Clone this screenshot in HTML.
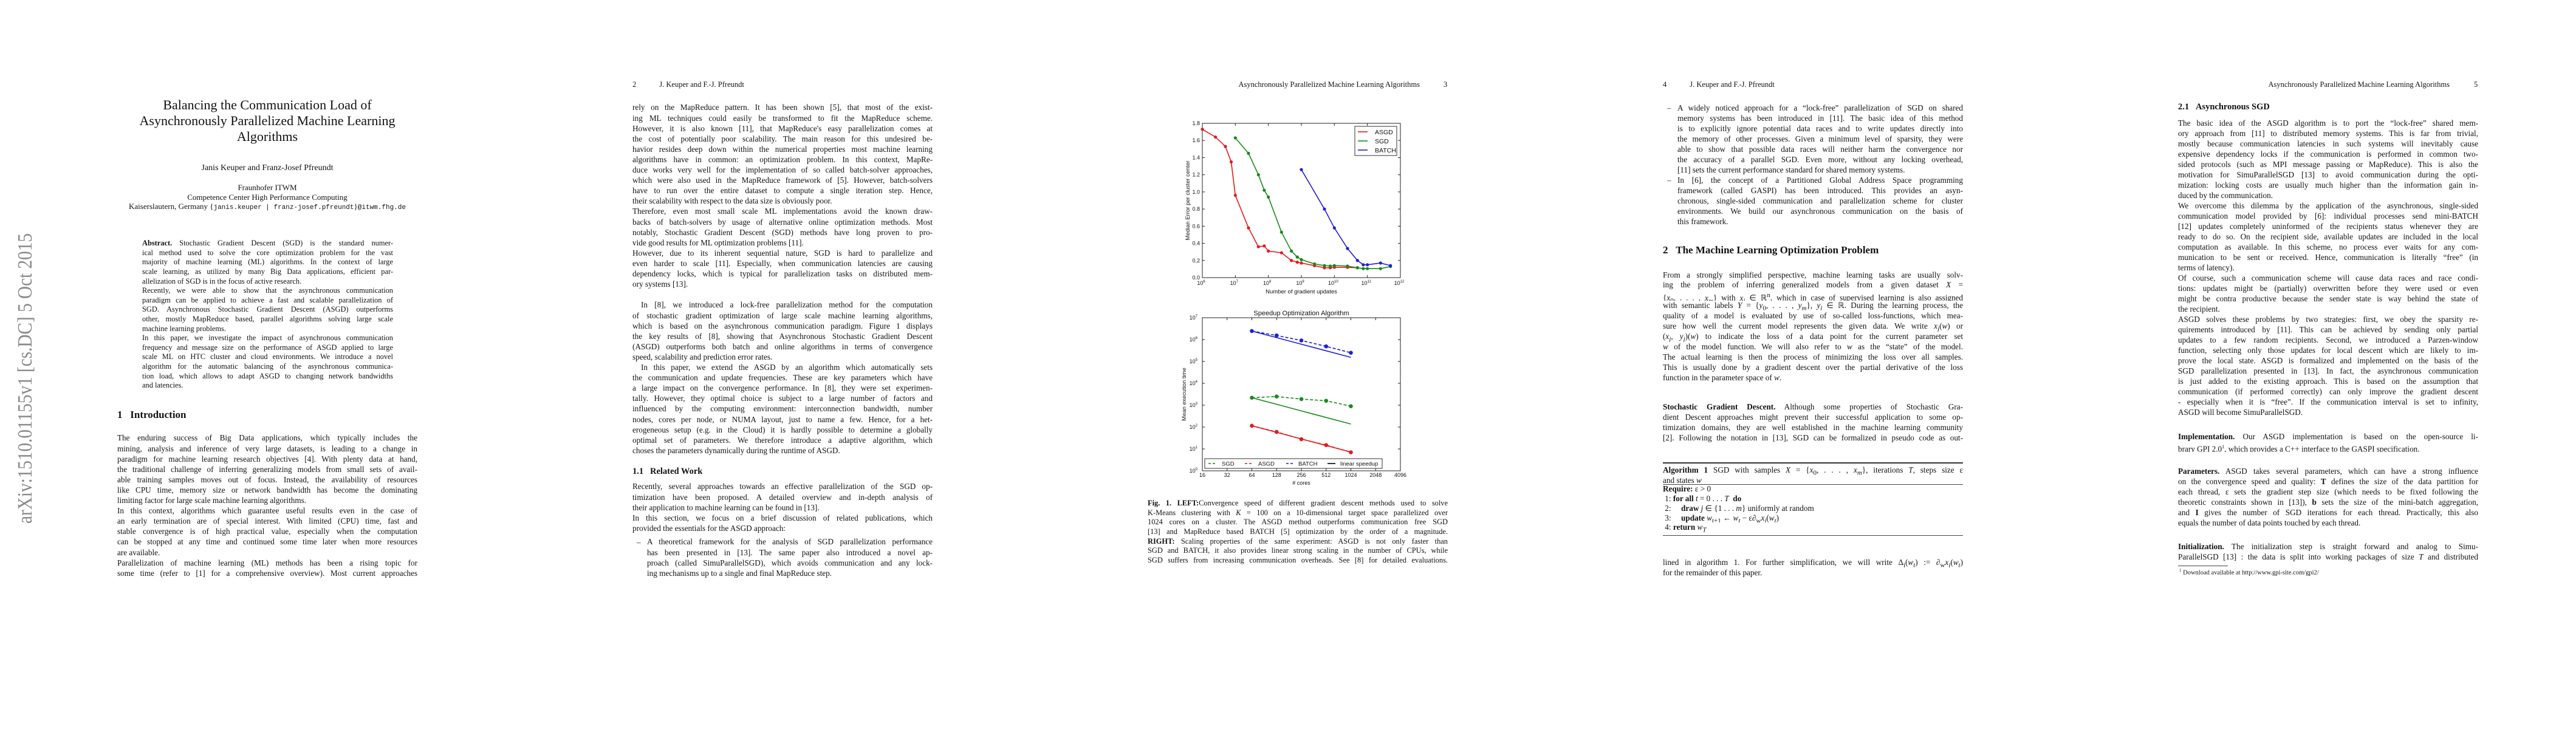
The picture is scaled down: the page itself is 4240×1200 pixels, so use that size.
<!DOCTYPE html>
<html><head><meta charset="utf-8">
<style>
html,body{margin:0;padding:0;background:#fff;}
body{width:4240px;height:1200px;position:relative;overflow:hidden;font-family:"Liberation Serif",serif;color:#111;}
.ln{position:absolute;white-space:normal;overflow:hidden;text-align:justify;text-align-last:justify;}
.ln.last{text-align-last:left;}
.abs{position:absolute;white-space:nowrap;}
.tt{font-family:"Liberation Mono",monospace;font-size:11px;}
svg text{font-family:"Liberation Sans",sans-serif;fill:#111;}
</style></head>
<body>

<!-- Page 1 -->
<div>
<svg class="abs" style="left:0;top:0" width="80" height="1200">
<text x="0" y="0" transform="translate(52,862) rotate(-90)" textLength="478" lengthAdjust="spacingAndGlyphs" style="font-family:'Liberation Serif',serif;font-size:34px;fill:#8a8a8a">arXiv:1510.01155v1  [cs.DC]  5 Oct 2015</text>
</svg>
<div class="abs" style="left:140px;width:600px;top:160px;text-align:center;font-size:22px;line-height:26px;">Balancing the Communication Load of<br>Asynchronously Parallelized Machine Learning<br>Algorithms</div>
<div class="abs" style="left:140px;width:600px;top:269px;text-align:center;font-size:14px;">Janis Keuper and Franz-Josef Pfreundt</div>
<div class="abs" style="left:140px;width:600px;top:301px;text-align:center;font-size:13px;line-height:15.5px;">Fraunhofer ITWM<br>Competence Center High Performance Computing<br>Kaiserslautern, Germany {<span class="tt">janis.keuper | franz-josef.pfreundt</span>}<span class="tt">@itwm.fhg.de</span></div>
<div class="abs" style="left:193px;top:673px;font-size:17px;font-weight:bold;">1&nbsp;&nbsp;&nbsp;Introduction</div>
</div>

<!-- Page 2 -->
<div class="abs" style="left:1041px;top:132px;font-size:12.5px;">2<span style="display:inline-block;width:38px"></span>J. Keuper and F.-J. Pfreundt</div>
<div class="abs" style="left:1041px;top:768px;font-size:14.5px;font-weight:bold;">1.1&nbsp;&nbsp;&nbsp;Related Work</div>

<!-- Page 3 -->
<div class="abs" style="left:1890px;width:447px;top:132px;font-size:12.5px;text-align:right;">Asynchronously Parallelized Machine Learning Algorithms</div>
<div class="abs" style="left:2376px;top:132px;font-size:12.5px;">3</div>

<!-- Page 4 -->
<div class="abs" style="left:2737px;top:132px;font-size:12.5px;">4<span style="display:inline-block;width:38px"></span>J. Keuper and F.-J. Pfreundt</div>
<div class="abs" style="left:2737px;top:402px;font-size:17px;font-weight:bold;">2&nbsp;&nbsp;&nbsp;The Machine Learning Optimization Problem</div>
<div class="abs" style="left:2737px;top:761px;width:494px;height:1.5px;background:#333;"></div>
<div class="abs" style="left:2737px;top:797px;width:494px;height:1px;background:#444;"></div>
<div class="abs" style="left:2737px;top:881px;width:494px;height:1px;background:#444;"></div>

<!-- Page 5 -->
<div class="abs" style="left:3585px;width:447px;top:132px;font-size:12.5px;text-align:right;">Asynchronously Parallelized Machine Learning Algorithms</div>
<div class="abs" style="left:4072px;top:132px;font-size:12.5px;">5</div>
<div class="abs" style="left:3585px;top:168px;font-size:14.5px;font-weight:bold;">2.1&nbsp;&nbsp;&nbsp;Asynchronous SGD</div>
<div class="abs" style="left:3585px;top:931px;width:82px;height:1px;background:#444;"></div>
<div class="abs" style="left:3587px;top:935px;font-size:10.5px;"><sup style="font-size:7px">1</sup> Download available at http://www.gpi-site.com/gpi2/</div>

<svg id="charts" class="abs" style="left:0;top:0" width="4240" height="1200"></svg>

<script>
// ---------- text blocks ----------
function block(name, x, y, w, lh, fs, lines, indentFirst){
  for (var i=0;i<lines.length;i++){
    var s = lines[i], last=false, ind=0;
    if (s.slice(-1)==='¶'){ last=true; s=s.slice(0,-1); }
    if (s.charAt(0)==='>'){ ind=14; s=s.slice(1); }
    var d=document.createElement('div');
    d.className='ln'+(last?' last':'');
    
    
    d.style.left=(x+ind)+'px'; d.style.width=(w-ind)+'px';
    d.style.top=(y+i*lh-lh/2)+'px'; d.style.height=lh+'px';
    d.style.lineHeight=lh+'px'; d.style.fontSize=fs+'px';
    d.innerHTML=s;
    document.body.appendChild(d);
  }
}
function dash(name,x,y){
  var d=document.createElement('div');
  d.className='abs';
  
  
  d.style.left=x+'px'; d.style.top=(y-8.5)+'px'; d.style.fontSize='13px'; d.style.lineHeight='17px';
  d.textContent='–';
  document.body.appendChild(d);
}
var FS=13.2;
block('abstract',234,401,413,15.6,12.4,[
'<b>Abstract.</b> Stochastic Gradient Descent (SGD) is the standard numer-',
'ical method used to solve the core optimization problem for the vast',
'majority of machine learning (ML) algorithms. In the context of large',
'scale learning, as utilized by many Big Data applications, efficient par-',
'allelization of SGD is in the focus of active research.¶',
'Recently, we were able to show that the asynchronous communication',
'paradigm can be applied to achieve a fast and scalable parallelization of',
'SGD. Asynchronous Stochastic Gradient Descent (ASGD) outperforms',
'other, mostly MapReduce based, parallel algorithms solving large scale',
'machine learning problems.¶',
'In this paper, we investigate the impact of asynchronous communication',
'frequency and message size on the performance of ASGD applied to large',
'scale ML on HTC cluster and cloud environments. We introduce a novel',
'algorithm for the automatic balancing of the asynchronous communica-',
'tion load, which allows to adapt ASGD to changing network bandwidths',
'and latencies.¶']);
block('introduction',193,721,494,17.1,FS,[
'The enduring success of Big Data applications, which typically includes the',
'mining, analysis and inference of very large datasets, is leading to a change in',
'paradigm for machine learning research objectives [4]. With plenty data at hand,',
'the traditional challenge of inferring generalizing models from small sets of avail-',
'able training samples moves out of focus. Instead, the availability of resources',
'like CPU time, memory size or network bandwidth has become the dominating',
'limiting factor for large scale machine learning algorithms.¶',
'In this context, algorithms which guarantee useful results even in the case of',
'an early termination are of special interest. With limited (CPU) time, fast and',
'stable convergence is of high practical value, especially when the computation',
'can be stopped at any time and continued some time later when more resources',
'are available.¶',
'Parallelization of machine learning (ML) methods has been a rising topic for',
'some time (refer to [1] for a comprehensive overview). Most current approaches']);
block('page2-intro',1041,177,494,17.1,FS,[
'rely on the MapReduce pattern. It has been shown [5], that most of the exist-',
'ing ML techniques could easily be transformed to fit the MapReduce scheme.',
'However, it is also known [11], that MapReduce\'s easy parallelization comes at',
'the cost of potentially poor scalability. The main reason for this undesired be-',
'havior resides deep down within the numerical properties most machine learning',
'algorithms have in common: an optimization problem. In this context, MapRe-',
'duce works very well for the implementation of so called batch-solver approaches,',
'which were also used in the MapReduce framework of [5]. However, batch-solvers',
'have to run over the entire dataset to compute a single iteration step. Hence,',
'their scalability with respect to the data size is obviously poor.¶',
'Therefore, even most small scale ML implementations avoid the known draw-',
'backs of batch-solvers by usage of alternative online optimization methods. Most',
'notably, Stochastic Gradient Descent (SGD) methods have long proven to pro-',
'vide good results for ML optimization problems [11].¶',
'However, due to its inherent sequential nature, SGD is hard to parallelize and',
'even harder to scale [11]. Especially, when communication latencies are causing',
'dependency locks, which is typical for parallelization tasks on distributed mem-',
'ory systems [13].¶']);
block('page2-contribution',1041,502,494,17.1,FS,[
'>In [8], we introduced a lock-free parallelization method for the computation',
'of stochastic gradient optimization of large scale machine learning algorithms,',
'which is based on the asynchronous communication paradigm. Figure 1 displays',
'the key results of [8], showing that Asynchronous Stochastic Gradient Descent',
'(ASGD) outperforms both batch and online algorithms in terms of convergence',
'speed, scalability and prediction error rates.¶',
'>In this paper, we extend the ASGD by an algorithm which automatically sets',
'the communication and update frequencies. These are key parameters which have',
'a large impact on the convergence performance. In [8], they were set experimen-',
'tally. However, they optimal choice is subject to a large number of factors and',
'influenced by the computing environment: interconnection bandwidth, number',
'nodes, cores per node, or NUMA layout, just to name a few. Hence, for a het-',
'erogeneous setup (e.g. in the Cloud) it is hardly possible to determine a globally',
'optimal set of parameters. We therefore introduce a adaptive algorithm, which',
'choses the parameters dynamically during the runtime of ASGD.¶']);
block('related-work',1041,801,494,17.1,FS,[
'Recently, several approaches towards an effective parallelization of the SGD op-',
'timization have been proposed. A detailed overview and in-depth analysis of',
'their application to machine learning can be found in [13].¶',
'In this section, we focus on a brief discussion of related publications, which',
'provided the essentials for the ASGD approach:¶']);
dash('bullet-dash',1048,892);
block('related-bullet-1',1065,892,470,17.1,FS,[
'A theoretical framework for the analysis of SGD parallelization performance',
'has been presented in [13]. The same paper also introduced a novel ap-',
'proach (called SimuParallelSGD), which avoids communication and any lock-',
'ing mechanisms up to a single and final MapReduce step.¶']);
block('figure-caption',1889,829,494,15.6,12.4,[
'<b>Fig. 1. LEFT:</b>Convergence speed of different gradient descent methods used to solve',
'K-Means clustering with <i>K</i> = 100 on a 10-dimensional target space parallelized over',
'1024 cores on a cluster. The ASGD method outperforms communication free SGD',
'[13] and MapReduce based BATCH [5] optimization by the order of a magnitude.',
'<b>RIGHT:</b> Scaling properties of the same experiment: ASGD is not only faster than',
'SGD and BATCH, it also provides linear strong scaling in the number of CPUs, while',
'SGD suffers from increasing communication overheads. See [8] for detailed evaluations.']);
dash('bullet-dash',2744,177);
block('related-bullet-2',2761,177,470,17.0,FS,[
'A widely noticed approach for a “lock-free” parallelization of SGD on shared',
'memory systems has been introduced in [11]. The basic idea of this method',
'is to explicitly ignore potential data races and to write updates directly into',
'the memory of other processes. Given a minimum level of sparsity, they were',
'able to show that possible data races will neither harm the convergence nor',
'the accuracy of a parallel SGD. Even more, without any locking overhead,',
'[11] sets the current performance standard for shared memory systems.¶']);
dash('bullet-dash',2744,296);
block('related-bullet-3',2761,296,470,17.0,FS,[
'In [6], the concept of a Partitioned Global Address Space programming',
'framework (called GASPI) has been introduced. This provides an asyn-',
'chronous, single-sided communication and parallelization scheme for cluster',
'environments. We build our asynchronous communication on the basis of',
'this framework.¶']);
block('optimization-problem',2737,453,494,16.9,FS,[
'From a strongly simplified perspective, machine learning tasks are usually solv-',
'ing the problem of inferring generalized models from a given dataset <i>X</i> =',
'{<i>x</i><sub>0</sub>, . . . , <i>x<sub>m</sub></i>} with <i>x<sub>i</sub></i> ∈ ℝ<sup>n</sup>, which in case of supervised learning is also assigned',
'with semantic labels <i>Y</i> = {<i>y</i><sub>0</sub>, . . . , <i>y<sub>m</sub></i>}, <i>y<sub>i</sub></i> ∈ ℝ. During the learning process, the',
'quality of a model is evaluated by use of so-called loss-functions, which mea-',
'sure how well the current model represents the given data. We write <i>x<sub>j</sub></i>(<i>w</i>) or',
'(<i>x<sub>j</sub></i>, <i>y<sub>j</sub></i>)(<i>w</i>) to indicate the loss of a data point for the current parameter set',
'<i>w</i> of the model function. We will also refer to <i>w</i> as the “state” of the model.',
'The actual learning is then the process of minimizing the loss over all samples.',
'This is usually done by a gradient descent over the partial derivative of the loss',
'function in the parameter space of <i>w</i>.¶']);
block('sgd-paragraph',2737,669,494,17.0,FS,[
'<b>Stochastic Gradient Descent.</b> Although some properties of Stochastic Gra-',
'dient Descent approaches might prevent their successful application to some op-',
'timization domains, they are well established in the machine learning community',
'[2]. Following the notation in [13], SGD can be formalized in pseudo code as out-']);
block('algorithm-title',2737,773,494,17,FS,[
'<b>Algorithm 1</b> SGD with samples <i>X</i> = {<i>x</i><sub>0</sub>, . . . , <i>x<sub>m</sub></i>}, iterations <i>T</i>, steps size ε',
'and states <i>w</i>¶']);
block('algorithm-body',2737,805,494,15.8,FS,[
'<b>Require:</b> ε &gt; 0¶',
'&nbsp;1: <b>for all</b> <i>t</i> = 0 . . . <i>T</i> &nbsp;<b>do</b>¶',
'&nbsp;2: &nbsp;&nbsp;&nbsp;&nbsp;<b>draw</b> <i>j</i> ∈ {1 . . . <i>m</i>} uniformly at random¶',
'&nbsp;3: &nbsp;&nbsp;&nbsp;&nbsp;<b>update</b> <i>w</i><sub>t+1</sub> ← <i>w<sub>t</sub></i> − ε∂<sub>w</sub><i>x<sub>j</sub></i>(<i>w<sub>t</sub></i>)¶',
'&nbsp;4: <b>return</b> <i>w<sub>T</sub></i>¶']);
block('after-algorithm',2737,925,494,17,FS,[
'lined in algorithm 1. For further simplification, we will write Δ<sub>j</sub>(<i>w<sub>t</sub></i>) := ∂<sub>w</sub><i>x<sub>j</sub></i>(<i>w<sub>t</sub></i>)',
'for the remainder of this paper.¶']);
block('asgd-text',3585,202,494,17.0,FS,[
'The basic idea of the ASGD algorithm is to port the “lock-free” shared mem-',
'ory approach from [11] to distributed memory systems. This is far from trivial,',
'mostly because communication latencies in such systems will inevitably cause',
'expensive dependency locks if the communication is performed in common two-',
'sided protocols (such as MPI message passing or MapReduce). This is also the',
'motivation for SimuParallelSGD [13] to avoid communication during the opti-',
'mization: locking costs are usually much higher than the information gain in-',
'duced by the communication.¶',
'We overcome this dilemma by the application of the asynchronous, single-sided',
'communication model provided by [6]: individual processes send mini-BATCH',
'[12] updates completely uninformed of the recipients status whenever they are',
'ready to do so. On the recipient side, available updates are included in the local',
'computation as available. In this scheme, no process ever waits for any com-',
'munication to be sent or received. Hence, communication is literally “free” (in',
'terms of latency).¶',
'Of course, such a communication scheme will cause data races and race condi-',
'tions: updates might be (partially) overwritten before they were used or even',
'might be contra productive because the sender state is way behind the state of',
'the recipient.¶',
'ASGD solves these problems by two strategies: first, we obey the sparsity re-',
'quirements introduced by [11]. This can be achieved by sending only partial',
'updates to a few random recipients. Second, we introduced a Parzen-window',
'function, selecting only those updates for local descent which are likely to im-',
'prove the local state. ASGD is formalized and implemented on the basis of the',
'SGD parallelization presented in [13]. In fact, the asynchronous communication',
'is just added to the existing approach. This is based on the assumption that',
'communication (if performed correctly) can only improve the gradient descent',
'- especially when it is “free”. If the communication interval is set to infinity,',
'ASGD will become SimuParallelSGD.¶']);
block('implementation',3585,718,494,17.0,FS,[
'<b>Implementation.</b> Our ASGD implementation is based on the open-source li-',
'brary GPI 2.0<sup style="font-size:8px">1</sup>, which provides a C++ interface to the GASPI specification.¶']);
block('parameters',3585,775,494,17.0,FS,[
'<b>Parameters.</b> ASGD takes several parameters, which can have a strong influence',
'on the convergence speed and quality: <b>T</b> defines the size of the data partition for',
'each thread, ε sets the gradient step size (which needs to be fixed following the',
'theoretic constraints shown in [13]), <b>b</b> sets the size of the mini-batch aggregation,',
'and <b>I</b> gives the number of SGD iterations for each thread. Practically, this also',
'equals the number of data points touched by each thread.¶']);
block('initialization',3585,899,494,17.0,FS,[
'<b>Initialization.</b> The initialization step is straight forward and analog to Simu-',
'ParallelSGD [13] : the data is split into working packages of size <i>T</i> and distributed']);
</script>

<script>
// ---------- Chart data ----------
var c1AsgdX = [1e6,2.5e6,5e6,7.5e6,1e7,2.5e7,5e7,7.5e7,1e8,2.5e8,5e8,7.5e8,1e9,2.5e9,5e9,7.5e9,1e10,2.5e10,5e10];
var c1AsgdY = [1.73,1.64,1.53,1.35,0.96,0.58,0.36,0.37,0.31,0.29,0.20,0.18,0.17,0.14,0.115,0.115,0.12,0.12,0.115];
var c1SgdX = [1e7,2.5e7,5e7,7.5e7,1e8,2.5e8,5e8,7.5e8,1e9,2.5e9,5e9,7.5e9,1e10,2.5e10,5e10,7.5e10,1e11,2.5e11,5e11];
var c1SgdY = [1.63,1.45,1.20,1.02,0.94,0.53,0.31,0.24,0.21,0.16,0.14,0.135,0.14,0.135,0.115,0.105,0.105,0.105,0.13];
var c1BatchX = [1e9,5e9,1e10,2.5e10,5e10,7.5e10,1e11,2.5e11,5e11];
var c1BatchY = [1.26,0.80,0.58,0.34,0.20,0.15,0.15,0.17,0.14];
var c1YTicks = [0,0.2,0.4,0.6,0.8,1.0,1.2,1.4,1.6,1.8];
var c1XTickExp = [6,7,8,9,10,11,12];

var c2Cores = [64,128,256,512,1024];
var c2Batch = [2.46e6,1.55e6,9.1e5,4.9e5,2.5e5];
var c2Sgd = [2.2e3,2.5e3,1.9e3,1.6e3,9.0e2];
var c2Asgd = [115,60,28,15,7];
var c2XTicks = [16,32,64,128,256,512,1024,2048,4096];
var c2YTickExp = [0,1,2,3,4,5,6,7];

(function(){
var NS='http://www.w3.org/2000/svg';
var svg=document.getElementById('charts');
function el(tag, attrs, parent){
  var e=document.createElementNS(NS,tag);
  for(var k in attrs) e.setAttribute(k, attrs[k]);
  (parent||svg).appendChild(e); return e;
}
var RED='#e41a1c', GREEN='#1a8a1a', BLUE='#1f1fd6';
var L1=1979,R1=2305,T1=203,B1=457;
function x1(v){return L1+(Math.log10(v)-6)/6*(R1-L1);}
function y1(v){return B1-v/1.8*(B1-T1);}
var g1=el('g',{});


var fr=el('rect',{x:L1,y:T1,width:R1-L1,height:B1-T1,fill:'none',stroke:'#222','stroke-width':1},g1);


c1YTicks.forEach(function(v){
  var y=y1(v);
  el('line',{x1:L1,x2:L1+4,y1:y,y2:y,stroke:'#222'},g1);
  el('line',{x1:R1,x2:R1-4,y1:y,y2:y,stroke:'#222'},g1);
  var t=el('text',{x:L1-4,y:y+3,'text-anchor':'end','font-size':9},g1);
  
  
  t.textContent=v.toFixed(1);
});
c1XTickExp.forEach(function(e){
  var x=x1(Math.pow(10,e));
  el('line',{x1:x,x2:x,y1:B1,y2:B1-4,stroke:'#222'},g1);
  el('line',{x1:x,x2:x,y1:T1,y2:T1+4,stroke:'#222'},g1);
  var t=el('text',{x:x-2,y:B1+12,'text-anchor':'middle','font-size':9},g1);
  
  
  t.textContent='10';
  var s=el('tspan',{dy:-4,'font-size':6},t); s.textContent=String(e);
});
var xl=el('text',{x:(L1+R1)/2,y:B1+26,'text-anchor':'middle','font-size':9.5},g1);


xl.textContent='Number of gradient updates';
var yl=el('text',{x:0,y:0,transform:'translate(1958,'+((T1+B1)/2)+') rotate(-90)','text-anchor':'middle','font-size':9.5},g1);


yl.textContent='Median Error per cluster center';
function series1(xs,ys,col,name){
  var pts=xs.map(function(x,i){return x1(x).toFixed(1)+','+y1(ys[i]).toFixed(1);}).join(' ');
  var pl=el('polyline',{points:pts,fill:'none',stroke:col,'stroke-width':1.6},g1);
  
  
  xs.forEach(function(x,i){
    var c=el('circle',{cx:x1(x),cy:y1(ys[i]),r:2.6,fill:col},g1);
    
    
  });
}
series1(c1AsgdX,c1AsgdY,RED,'asgd');
series1(c1SgdX,c1SgdY,GREEN,'sgd');
series1(c1BatchX,c1BatchY,BLUE,'batch');
var lg=el('g',{},g1);


el('rect',{x:2230,y:208,width:69,height:48,fill:'#fff',stroke:'#333'},lg);
[['ASGD',RED,217],['SGD',GREEN,232],['BATCH',BLUE,247]].forEach(function(e){
  el('line',{x1:2235,x2:2251,y1:e[2],y2:e[2],stroke:e[1],'stroke-width':1.6},lg);
  var t=el('text',{x:2263,y:e[2]+4,'font-size':10.5},lg);
  
  
  t.textContent=e[0];
});

var L2=1979,R2=2305,T2=523,B2=775;
function x2(c){return L2+(Math.log2(c)-4)/8*(R2-L2);}
function y2(v){return B2-Math.log10(v)/7*(B2-T2);}
var g2=el('g',{});


var fr2=el('rect',{x:L2,y:T2,width:R2-L2,height:B2-T2,fill:'none',stroke:'#222','stroke-width':1},g2);


var tt=el('text',{x:(L2+R2)/2,y:T2-4,'text-anchor':'middle','font-size':11},g2);


tt.textContent='Speedup Optimization Algorithm';
c2YTickExp.forEach(function(e){
  var y=y2(Math.pow(10,e));
  el('line',{x1:L2,x2:L2+4,y1:y,y2:y,stroke:'#222'},g2);
  el('line',{x1:R2,x2:R2-4,y1:y,y2:y,stroke:'#222'},g2);
  var t=el('text',{x:L2-8,y:y+3,'text-anchor':'end','font-size':9},g2);
  
  
  t.textContent='10';
  var s=el('tspan',{dy:-4,'font-size':6},t); s.textContent=String(e);
});
c2XTicks.forEach(function(c){
  var x=x2(c);
  el('line',{x1:x,x2:x,y1:B2,y2:B2-4,stroke:'#222'},g2);
  el('line',{x1:x,x2:x,y1:T2,y2:T2+4,stroke:'#222'},g2);
  var t=el('text',{x:x,y:B2+10,'text-anchor':'middle','font-size':9},g2);
  
  
  t.textContent=String(c);
});
var xl2=el('text',{x:(L2+R2)/2,y:B2+23,'text-anchor':'middle','font-size':9},g2);


xl2.textContent='# cores';
var yl2=el('text',{x:0,y:0,transform:'translate(1952,'+((T2+B2)/2)+') rotate(-90)','text-anchor':'middle','font-size':9.5},g2);


yl2.textContent='Mean execution time';
function series2(vals,col,name){
  var lin=c2Cores.map(function(c){return y2(vals[0]*c2Cores[0]/c);});
  var pl=el('polyline',{points:c2Cores.map(function(c,i){return x2(c)+','+lin[i];}).join(' '),fill:'none',stroke:col,'stroke-width':1.6},g2);
  
  
  var dl=el('polyline',{points:c2Cores.map(function(c,i){return x2(c)+','+y2(vals[i]);}).join(' '),fill:'none',stroke:col,'stroke-width':1.6,'stroke-dasharray':'5,3'},g2);
  
  
  c2Cores.forEach(function(c,i){
    var p=el('circle',{cx:x2(c),cy:y2(vals[i]),r:3.3,fill:col},g2);
    
    
  });
}
series2(c2Batch,BLUE,'batch');
series2(c2Sgd,GREEN,'sgd');
series2(c2Asgd,RED,'asgd');
var lg2=el('g',{},g2);


el('rect',{x:1983,y:755,width:292,height:16,fill:'#fff',stroke:'#333'},lg2);
[['SGD',GREEN,1989,2011,true],['ASGD',RED,2049,2071,true],['BATCH',BLUE,2117,2137,true],['linear speedup','#000',2185,2206,false]].forEach(function(e){
  var a={x1:e[2],x2:e[2]+13,y1:763,y2:763,stroke:e[1],'stroke-width':1.6};
  if(e[4]) a['stroke-dasharray']='4,3';
  el('line',a,lg2);
  var t=el('text',{x:e[3],y:766.5,'font-size':9.5},lg2);
  
  
  t.textContent=e[0];
});
})();
</script>
</body></html>
